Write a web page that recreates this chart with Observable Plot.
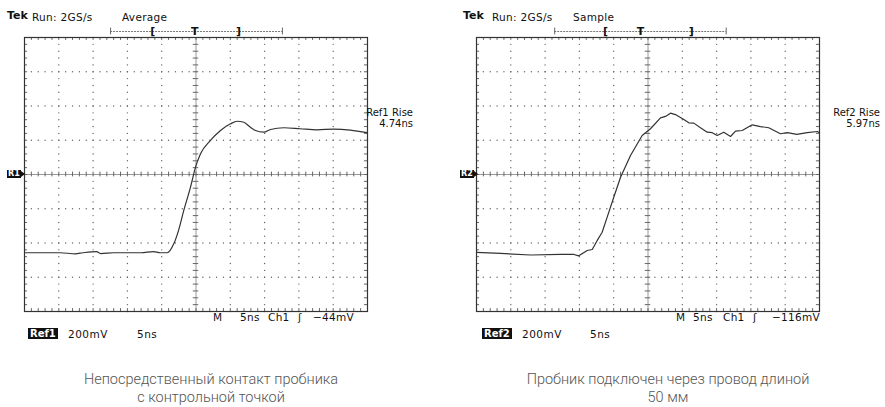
<!DOCTYPE html>
<html>
<head>
<meta charset="utf-8">
<script src="https://cdn.jsdelivr.net/npm/d3@7"></script>
<script src="https://cdn.jsdelivr.net/npm/@observablehq/plot@0.6"></script>
<style>
  body { margin: 0; background: #fff; }
  #wrap { position: relative; width: 885px; height: 407px; background: #fff; overflow: hidden; }
  .pl { position: absolute; top: 0; width: 442px; height: 320px; }
  .pl svg { max-width: none !important; }
  .t { position: absolute; font-family: "DejaVu Sans", sans-serif; font-size: 10.5px; line-height: 12px; color: #111; white-space: nowrap; }
  .tek { font-weight: bold; font-size: 11px; }
  .inv { background: #111; color: #fff; font-weight: bold; padding: 0 2px; line-height: 11px; font-size: 10px; }
  .mk { position: absolute; background: #111; color: #fff; font-family: "DejaVu Sans", sans-serif; font-weight: bold; font-size: 8px; line-height: 8px; height: 8px; padding: 0 1px; }
  .mk::after { content: ""; position: absolute; right: -4px; top: 1px; border-left: 4px solid #111; border-top: 3px solid transparent; border-bottom: 3px solid transparent; }
  .rr { position: absolute; font-family: "DejaVu Sans", sans-serif; font-size: 10px; line-height: 11px; text-align: right; color: #111; }
  .cap { position: absolute; width: 360px; text-align: center; font-family: Roboto, "Open Sans", sans-serif; font-weight: 300; font-size: 14.5px; line-height: 18px; color: #555; }
</style>
</head>
<body>
<div id="wrap">
  <div id="p1" class="pl" style="left:0px"></div>
  <div id="p2" class="pl" style="left:452px"></div>
</div>
<script>
// Time in ns (5 ns/div), voltage in mV (200 mV/div)
const tLeft = [-25, -19.8, -17.6, -16.5, -14.5, -13.9, -12, -8, -6.2, -5.2, -4.2, -3.24, -2.5, -1.78, -0.8, -0.07, 0.66, 2.11, 3.57, 5.03, 6.0, 6.97, 7.94, 8.67, 9.88, 10.86, 12.8, 15.2, 17.67, 20.1, 22.5, 24.96];
const vLeft = [-457, -457, -463, -457, -450, -462, -457, -457, -450, -457, -457, -405, -320, -210, -74, 43, 121, 199, 257, 296, 311, 305, 276, 257, 247, 263, 273, 267, 261, 265, 259, 244];

const tRight = [-25, -21.5, -17.1, -12.75, -10.8, -10.1, -8.86, -8.13, -7.4, -6.68, -5.95, -4.99, -4.0, -2.55, -0.85, 0.36, 1.82, 2.55, 3.28, 4.0, 5.22, 5.95, 6.68, 7.65, 8.63, 9.36, 10.09, 11.05, 12.03, 12.76, 13.73, 15.19, 16.4, 17.6, 19.3, 20.3, 21.7, 23.2, 24.7, 25];
const vRight = [-455, -461, -470, -467, -467, -475, -444, -438, -385, -337, -249, -133, -16, 111, 228, 267, 331, 339, 358, 350, 321, 302, 300, 273, 247, 244, 228, 247, 222, 253, 257, 290, 280, 273, 238, 245, 234, 245, 251, 244];

// trigger record window [start, bracketL, trigger, bracketR, end] in ns
const trigLeft = [-12.45, -6.3, -0.2, 6.2, 12.6];
const trigRight = [-13.6, -6.2, -1.1, 6.3, 11.4];

const headerLeft = ["Tek", "Run: 2GS/s", "Average"];
const headerRight = ["Tek", "Run: 2GS/s", "Sample"];
const footLeft1 = ["M", "5ns", "Ch1", "ʃ", "−44mV"];
const footRight1 = ["M", "5ns", "Ch1", "ʃ", "−116mV"];
const footLeft2 = ["Ref1", "200mV", "5ns"];
const footRight2 = ["Ref2", "200mV", "5ns"];
const riseLeft = ["Ref1 Rise", "4.74ns"];
const riseRight = ["Ref2 Rise", "5.97ns"];
const markers = ["R1", "R2"];
const captionLeft = ["Непосредственный контакт пробника", "с контрольной точкой"];
const captionRight = ["Пробник подключен через провод длиной", "50 мм"];

const majorX = [-20, -15, -10, -5, 5, 10, 15, 20];
const majorY = [-600, -400, -200, 200, 400, 600];
const minorX = d3.range(-25, 25.001, 1);
const minorY = d3.range(-800, 800.001, 40);

function scope(t, v, trig, curve) {
  const gridV = majorX.flatMap(x => minorY.map(y => ({x, y})));
  const gridH = majorY.flatMap(y => minorX.map(x => ({x, y})));
  const data = t.map((d, i) => ({t: d, v: v[i]}));
  const tf = {fontFamily: "DejaVu Sans, sans-serif", fontSize: 11, fill: "#111"};
  return Plot.plot({
    width: 442, height: 320,
    marginLeft: 24, marginRight: 75, marginTop: 37, marginBottom: 9,
    x: {domain: [-25, 25], axis: null},
    y: {domain: [-800, 800], axis: null},
    style: {background: "transparent", overflow: "visible", maxWidth: "none"},
    marks: [
      Plot.dot(gridV, {x: "x", y: "y", r: 0.7, fill: "#666", stroke: null}),
      Plot.dot(gridH, {x: "x", y: "y", r: 0.7, fill: "#666", stroke: null}),
      Plot.ruleX([0], {stroke: "#999", strokeWidth: 1}),
      Plot.ruleY([0], {stroke: "#999", strokeWidth: 1}),
      Plot.ruleX(minorX, {x: d => d, y1: -14, y2: 14, stroke: "#666"}),
      Plot.ruleY(minorY, {y: d => d, x1: -0.4, x2: 0.4, stroke: "#666"}),
      Plot.ruleX(minorX, {x: d => d, y1: 800, y2: 783, stroke: "#666"}),
      Plot.ruleX(minorX, {x: d => d, y1: -800, y2: -783, stroke: "#666"}),
      Plot.ruleY(minorY, {y: d => d, x1: -25, x2: -24.55, stroke: "#666"}),
      Plot.ruleY(minorY, {y: d => d, x1: 25, x2: 24.55, stroke: "#666"}),
      Plot.frame({stroke: "#333", strokeWidth: 1.2}),
      // trigger window bar
      Plot.ruleY([835], {x1: trig[0], x2: trig[4], stroke: "#777", strokeDasharray: "2,1"}),
      Plot.ruleX([trig[0], trig[4]], {x: d => d, y1: 815, y2: 855, stroke: "#666"}),
      Plot.text(["[", "T", "]"], {x: (d, i) => trig[i + 1], y: 835, text: d => d, ...tf, fontWeight: "bold"}),
      Plot.line(data, {x: "t", y: "v", stroke: "#333", strokeWidth: 1.2, curve})
    ]
  });
}

document.getElementById("p1").append(scope(tLeft, vLeft, trigLeft, "monotone-x"));
document.getElementById("p2").append(scope(tRight, vRight, trigRight, "linear"));

const wrap = document.getElementById("wrap");
function put(text, cls, left, top, extra) {
  const s = document.createElement("div");
  s.className = cls;
  s.textContent = text;
  s.style.left = left + "px";
  s.style.top = top + "px";
  if (extra) Object.assign(s.style, extra);
  wrap.append(s);
  return s;
}

[[headerLeft, [7, 32, 122]], [headerRight, [463, 492, 573]]].forEach(([h, xs]) => {
  put(h[0], "t tek", xs[0], 10);
  put(h[1], "t", xs[1], 11, {letterSpacing: "0.3px"});
  put(h[2], "t", xs[2], 11, {letterSpacing: "0.3px"});
});
[[footLeft1, [213, 240, 268, 298, 313]], [footRight1, [676, 693, 723, 753, 772]]].forEach(([f, xs]) => {
  f.forEach((s, i) => put(s, "t", xs[i], 311, {letterSpacing: "0.3px"}));
});
[[footLeft2, [28, 68, 137]], [footRight2, [482, 522, 590]]].forEach(([f, xs]) => {
  put(f[0], "t inv", xs[0], 328);
  put(f[1], "t", xs[1], 328, {letterSpacing: "0.5px"});
  put(f[2], "t", xs[2], 328, {letterSpacing: "0.5px"});
});
[[riseLeft, 413], [riseRight, 880]].forEach(([r, right]) => {
  const d = document.createElement("div");
  d.className = "rr";
  d.style.left = (right - 80) + "px";
  d.style.width = "80px";
  d.style.top = "107px";
  d.innerHTML = r[0] + "<br>" + r[1];
  wrap.append(d);
});
put(markers[0], "mk", 7, 170);
put(markers[1], "mk", 460, 170);
[[captionLeft, 211], [captionRight, 668]].forEach(([c, cx]) => {
  const d = document.createElement("div");
  d.className = "cap";
  d.style.left = (cx - 180) + "px";
  d.style.top = "371px";
  d.innerHTML = c[0] + "<br>" + c[1];
  wrap.append(d);
});
</script>
</body>
</html>
